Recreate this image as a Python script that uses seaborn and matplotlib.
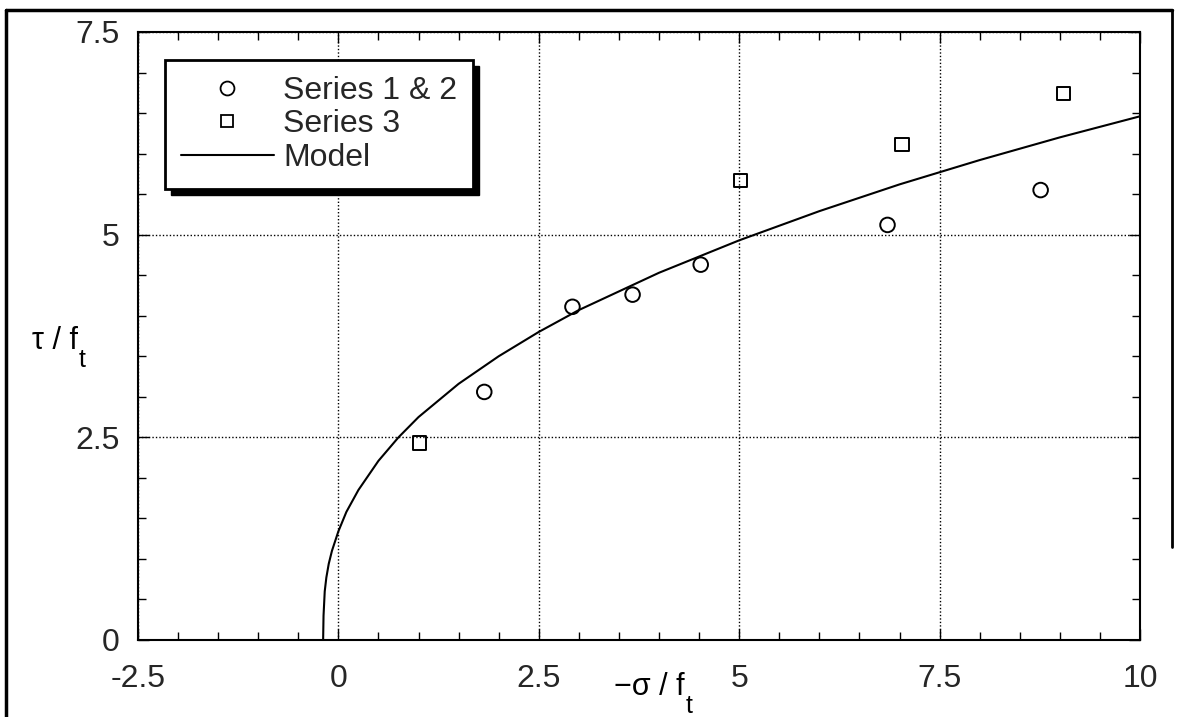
import matplotlib
matplotlib.use("Agg")
import matplotlib.pyplot as plt
import seaborn as sns
from matplotlib.lines import Line2D
from matplotlib.patches import Rectangle
from matplotlib.ticker import MultipleLocator

# Data
series12_x = [1.82, 2.92, 3.67, 4.52, 6.85, 8.76]
series12_y = [3.06, 4.11, 4.26, 4.63, 5.12, 5.55]
series3_x = [1.01, 5.02, 7.03, 9.05]
series3_y = [2.43, 5.67, 6.11, 6.74]
model_x = [-0.19, -0.185, -0.17, -0.15, -0.12, -0.08, 0.0, 0.1, 0.25, 0.5, 0.75,
           1.0, 1.5, 2.0, 2.5, 3.0, 4.0, 5.0, 6.0, 7.0, 8.0, 9.0, 10.0]
model_y = [0.0, 0.3, 0.6, 0.77, 0.94, 1.1, 1.34, 1.58, 1.85, 2.21, 2.5,
           2.75, 3.16, 3.50, 3.80, 4.07, 4.53, 4.93, 5.29, 5.62, 5.92, 6.20, 6.46]
x_ticks = [-2.5, 0, 2.5, 5, 7.5, 10]
x_ticklabels = ["-2.5", "0", "2.5", "5", "7.5", "10"]
y_ticks = [0, 2.5, 5, 7.5]
y_ticklabels = ["0", "2.5", "5", "7.5"]
legend_labels = ["Series 1 & 2", "Series 3", "Model"]

sns.set_theme(style="white")
plt.rcParams["font.family"] = ["Liberation Sans", "DejaVu Sans"]
plt.rcParams["axes.unicode_minus"] = False

fig = plt.figure(figsize=(11.77, 7.17), dpi=100)
ax = fig.add_axes([0.1172, 0.1074, 0.8514, 0.848])

sns.lineplot(x=model_x, y=model_y, ax=ax, color="black", lw=1.5,
             estimator=None, sort=False, zorder=3)
sns.scatterplot(x=series12_x, y=series12_y, ax=ax, marker="o", s=110,
                facecolor="none", edgecolor="black", linewidth=1.4, zorder=4)
sns.scatterplot(x=series3_x, y=series3_y, ax=ax, marker="s", s=90,
                facecolor="none", edgecolor="black", linewidth=1.4, zorder=4)

ax.set_xlim(-2.5, 10)
ax.set_ylim(0, 7.5)
ax.xaxis.set_minor_locator(MultipleLocator(0.5))
ax.yaxis.set_minor_locator(MultipleLocator(0.5))
ax.set_xticks(x_ticks)
ax.set_xticklabels(x_ticklabels)
ax.set_yticks(y_ticks)
ax.set_yticklabels(y_ticklabels)
ax.tick_params(which="both", direction="in", top=True, right=True,
               bottom=True, left=True, color="black", width=1)
ax.tick_params(which="major", length=8, labelsize=23)
ax.tick_params(which="minor", length=6)
ax.tick_params(axis="x", which="major", pad=17)
ax.tick_params(axis="y", which="major", pad=13)
ax.grid(True, which="major", color="black", lw=1, linestyle=(0, (1, 1.5)))
for sp in ax.spines.values():
    sp.set_color("black")
    sp.set_linewidth(1.5)

# axis titles with a low, large subscript like the scan
ax.text(0.546, -0.0773, "\u2212\u03c3 / f", transform=ax.transAxes,
        fontsize=22, ha="right", va="center", color="black")
ax.text(0.547, -0.108, "t", transform=ax.transAxes,
        fontsize=18, ha="left", va="center", color="black")
ax.text(-0.0599, 0.4918, "\u03c4 / f", transform=ax.transAxes,
        fontsize=22, ha="right", va="center", color="black")
ax.text(-0.0594, 0.461, "t", transform=ax.transAxes,
        fontsize=18, ha="left", va="center", color="black")

# legend with a hard drop shadow
handles = [
    Line2D([], [], marker="o", ls="none", mfc="none", mec="black", ms=10, mew=1.3),
    Line2D([], [], marker="s", ls="none", mfc="none", mec="black", ms=9, mew=1.3),
    Line2D([], [], color="black", lw=1.5),
]
leg = ax.legend(handles, legend_labels,
                loc="upper left", bbox_to_anchor=(0.027, 0.954),
                borderaxespad=0, fontsize=23, fancybox=False, framealpha=1,
                edgecolor="black", handlelength=2.9, handletextpad=0.3,
                labelspacing=0.11, borderpad=0.5)
leg.get_frame().set_linewidth(2)
leg.set_zorder(6)

fig.canvas.draw()
bb = leg.get_window_extent().transformed(ax.transAxes.inverted())
dx = 6 / ax.bbox.width
dy = 6 / ax.bbox.height
ax.add_patch(Rectangle((bb.x0 + dx, bb.y0 - dy), bb.width, bb.height,
                       transform=ax.transAxes, facecolor="black",
                       edgecolor="black", zorder=5.5, clip_on=False))

# scan frame around the figure
fig.add_artist(Line2D([0.005, 0.005], [0, 0.986], color="black", lw=2.5,
                      transform=fig.transFigure))
fig.add_artist(Line2D([0.005, 0.996], [0.986, 0.986], color="black", lw=2.5,
                      transform=fig.transFigure))
fig.add_artist(Line2D([0.996, 0.996], [0.986, 0.237], color="black", lw=2,
                      transform=fig.transFigure))

fig.savefig("out.png", dpi=100)
